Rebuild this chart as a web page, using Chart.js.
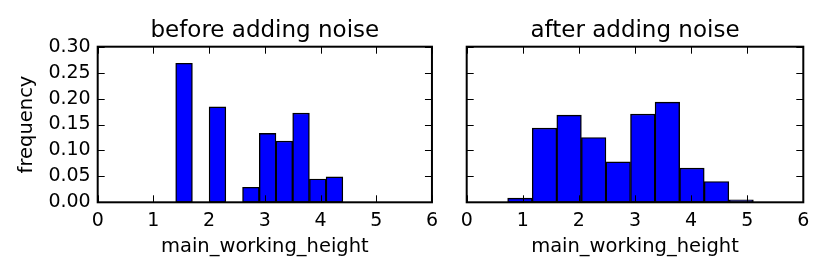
<!DOCTYPE html>
<html lang="en">

<head>
    <meta charset="UTF-8">
    <title>noise histograms</title>
    <script src="https://cdn.jsdelivr.net/npm/chart.js@4.4.1/dist/chart.umd.min.js"></script>
    <style>
        body { margin: 0; background: #fff; }
        canvas { position: absolute; top: 0; }
    </style>
</head>

<body>
    <canvas id="antes" width="445" height="277" style="left:0"></canvas>
    <canvas id="depois" width="385" height="277" style="left:445px"></canvas>
</body>

</html>

<script>
    // bin centres + frequencies
    const beforeBins = [1.55, 1.85, 2.15, 2.45, 2.75, 3.05, 3.35, 3.65, 3.95, 4.25];
    const beforeFreq = [0.268, 0, 0.184, 0, 0.029, 0.133, 0.118, 0.172, 0.045, 0.049];

    const afterBins = [0.949, 1.387, 1.825, 2.263, 2.701, 3.139, 3.577, 4.015, 4.453, 4.891];
    const afterFreq = [0.008, 0.143, 0.168, 0.125, 0.078, 0.170, 0.193, 0.066, 0.040, 0.005];

    const titles = ["before adding noise", "after adding noise"];
    const xLabel = "main_working_height";
    const yLabel = "frequency";

    const fonte = "DejaVu Sans";

    // frame + inward ticks like matplotlib classic
    const moldura = {
        id: "moldura",
        afterDatasetsDraw(chart) {
            const ctx = chart.ctx;
            const a = chart.chartArea;
            const sx = chart.scales.x, sy = chart.scales.y;
            ctx.save();
            ctx.strokeStyle = "#000";
            ctx.lineWidth = 1;
            ctx.beginPath();
            sx.ticks.forEach(t => {
                const px = Math.round(sx.getPixelForValue(t.value)) + 0.5;
                ctx.moveTo(px, a.bottom); ctx.lineTo(px, a.bottom - 7);
                ctx.moveTo(px, a.top); ctx.lineTo(px, a.top + 7);
            });
            sy.ticks.forEach(t => {
                const py = Math.round(sy.getPixelForValue(t.value)) + 0.5;
                ctx.moveTo(a.left, py); ctx.lineTo(a.left + 7, py);
                ctx.moveTo(a.right, py); ctx.lineTo(a.right - 7, py);
            });
            ctx.stroke();
            ctx.lineWidth = 2;
            ctx.strokeRect(a.left, a.top, a.right - a.left, a.bottom - a.top);
            ctx.restore();
        }
    };

    function montar(id, bins, freq, titulo, mostrarY) {
        const pontos = bins.map((b, i) => ({ x: b, y: freq[i] }));
        new Chart(document.getElementById(id), {
            type: "bar",
            data: {
                datasets: [{
                    data: pontos,
                    backgroundColor: "#0000ff",
                    borderColor: "#000",
                    borderWidth: 1.4,
                    borderSkipped: false,
                    barPercentage: 1,
                    categoryPercentage: 1
                }]
            },
            options: {
                responsive: false,
                animation: false,
                devicePixelRatio: 1,
                layout: { padding: { left: 0, right: mostrarY ? 10.7 : 26.7, top: 0, bottom: 0 } },
                plugins: {
                    legend: { display: false },
                    tooltip: { enabled: false },
                    title: {
                        display: true,
                        fullSize: false,
                        text: titulo,
                        color: "#000",
                        font: { family: fonte, size: 23, weight: "normal" },
                        padding: { top: 16.8, bottom: 2.3 }
                    }
                },
                scales: {
                    x: {
                        type: "linear",
                        min: 0,
                        max: 6,
                        offset: false,
                        grid: { display: false, drawTicks: false },
                        border: { display: false },
                        ticks: {
                            stepSize: 1,
                            autoSkip: false,
                            color: "#000",
                            padding: 7,
                            maxRotation: 0,
                            font: { family: fonte, size: 19 }
                        },
                        title: {
                            display: true,
                            text: xLabel,
                            color: "#000",
                            font: { family: fonte, size: 19.5 },
                            padding: { top: 0, bottom: 18.3 }
                        },
                        afterFit(s) { s.height = 74.7; }
                    },
                    y: {
                        min: 0,
                        max: 0.3,
                        grid: { display: false, drawTicks: false },
                        border: { display: false },
                        ticks: {
                            display: mostrarY,
                            stepSize: 0.05,
                            autoSkip: false,
                            color: "#000",
                            padding: 7,
                            font: { family: fonte, size: 19 },
                            callback: v => v.toFixed(2)
                        },
                        title: {
                            display: mostrarY,
                            text: yLabel,
                            color: "#000",
                            font: { family: fonte, size: 19.5 },
                            padding: { top: 15.3, bottom: 0 }
                        },
                        afterFit(s) { s.width = mostrarY ? 97.7 : 21.7; }
                    }
                }
            },
            plugins: [moldura]
        });
    }

    montar("antes", beforeBins, beforeFreq, titles[0], true);
    montar("depois", afterBins, afterFreq, titles[1], false);
</script>
